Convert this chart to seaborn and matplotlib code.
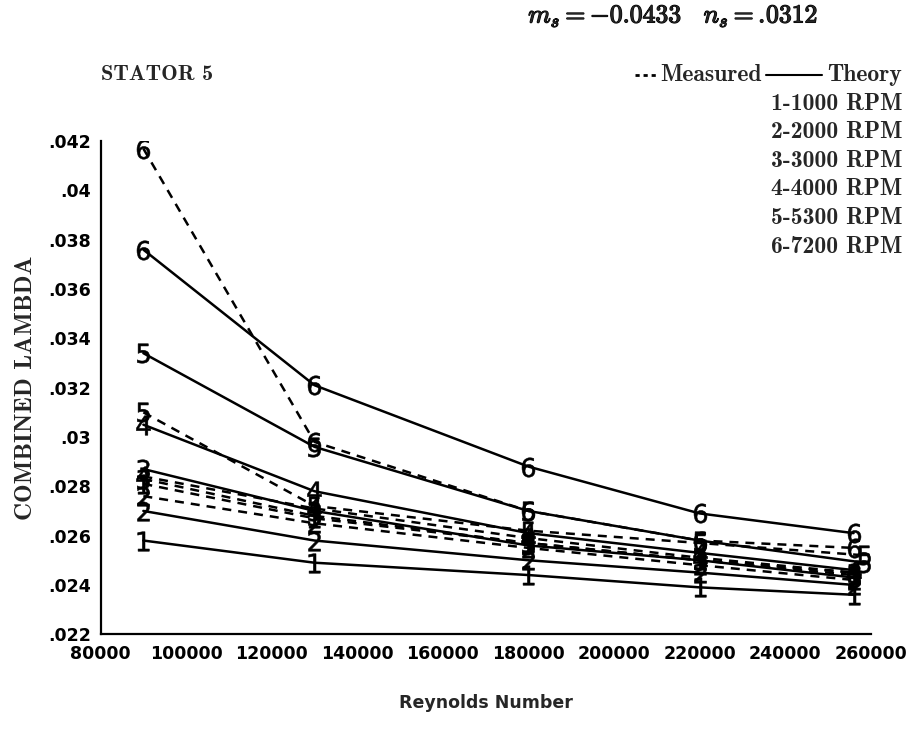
import matplotlib
matplotlib.use("Agg")
import matplotlib.pyplot as plt
from matplotlib.lines import Line2D
from matplotlib.ticker import FuncFormatter
import matplotlib.patheffects as pe
import seaborn as sns
import pandas as pd

# ---------------- data ----------------
reynolds = [90000, 130000, 180000, 220000, 256000]
reynolds_5 = [90000, 130000, 180000, 220000, 258500]
rpm_labels = ["1-1000 RPM", "2-2000 RPM", "3-3000 RPM", "4-4000 RPM", "5-5300 RPM", "6-7200 RPM"]
series_ids = ["1", "2", "3", "4", "5", "6"]

theory_1 = [0.0258, 0.0249, 0.0244, 0.0239, 0.0236]
theory_2 = [0.0270, 0.0258, 0.0250, 0.0245, 0.0240]
theory_3 = [0.0287, 0.0270, 0.0256, 0.0250, 0.0243]
theory_4 = [0.0305, 0.0278, 0.0261, 0.0253, 0.0246]
theory_5 = [0.0334, 0.0296, 0.0270, 0.0258, 0.0249]
theory_6 = [0.0376, 0.0321, 0.0288, 0.0269, 0.0261]

measured_1 = [0.0281, 0.0267, 0.0257, 0.0250, 0.0244]
measured_2 = [0.0276, 0.0265, 0.0255, 0.0248, 0.0242]
measured_3 = [0.0283, 0.0268, 0.0257, 0.0250, 0.0245]
measured_4 = [0.0284, 0.0271, 0.0259, 0.0251, 0.0245]
measured_5 = [0.0310, 0.0272, 0.0262, 0.0257, 0.0252]
measured_6 = [0.0417, 0.0298, 0.0270, 0.0258, 0.0255]

x_ticks = [80000, 100000, 120000, 140000, 160000, 180000, 200000, 220000, 240000, 260000]
y_ticks = [0.022, 0.024, 0.026, 0.028, 0.030, 0.032, 0.034, 0.036, 0.038, 0.040, 0.042]

theory = [theory_1, theory_2, theory_3, theory_4, theory_5, theory_6]
measured = [measured_1, measured_2, measured_3, measured_4, measured_5, measured_6]

rows = []
for sid, t, m in zip(series_ids, theory, measured):
    xs = reynolds_5 if sid == "5" else reynolds
    for re_, tv, mv in zip(xs, t, m):
        rows.append({"Re": re_, "lam": tv, "kind": "Theory", "sid": sid})
        rows.append({"Re": re_, "lam": mv, "kind": "Measured", "sid": sid})
df = pd.DataFrame(rows)

# ---------------- style ----------------
sns.set_theme(style="white")
plt.rcParams["mathtext.fontset"] = "cm"
plt.rcParams["font.family"] = ["DejaVu Sans"]
SERIF_B = ["cmb10", "DejaVu Serif"]

fig = plt.figure(figsize=(9.06, 7.47), dpi=100)
ax = fig.add_axes([0.111, 0.151, 0.850, 0.660])

for sid in series_ids:
    for kind, ls in (("Theory", "-"), ("Measured", (0, (3.6, 2.8)))):
        sub = df[(df["sid"] == sid) & (df["kind"] == kind)]
        sns.lineplot(data=sub, x="Re", y="lam", ax=ax, color="black",
                     linestyle=ls, linewidth=1.8,
                     marker=r"$\mathdefault{" + sid + "}$",
                     markersize=14, markeredgewidth=0.4,
                     markerfacecolor="black", markeredgecolor="black",
                     estimator=None, sort=False, legend=False)

ax.set_xlim(80000, 260000)
ax.set_ylim(0.022, 0.042)
ax.set_xticks(x_ticks)
ax.set_yticks(y_ticks)


def yfmt(v, pos):
    s = f"{v:.3f}".rstrip("0")
    return s[1:] if s.startswith("0") else s


ax.yaxis.set_major_formatter(FuncFormatter(yfmt))
ax.xaxis.set_major_formatter(FuncFormatter(lambda v, p: f"{int(v)}"))

for side in ("top", "right"):
    ax.spines[side].set_visible(False)
for side in ("left", "bottom"):
    ax.spines[side].set_color("black")
    ax.spines[side].set_linewidth(1.6)

ax.tick_params(axis="both", which="major", direction="inout", length=8,
               width=1.4, color="black", labelcolor="black")
ax.tick_params(axis="x", labelsize=12.5, pad=4)
ax.tick_params(axis="y", labelsize=12.5, pad=3)
for lab in ax.get_xticklabels() + ax.get_yticklabels():
    lab.set_fontweight("bold")

ax.set_xlabel("Reynolds Number", fontsize=12.5, fontweight="bold", labelpad=22)
ax.set_ylabel("COMBINED LAMBDA", fontsize=18, family=SERIF_B, labelpad=8)
ax.grid(False)

# ---------------- annotations ----------------
bold_fx = [pe.withStroke(linewidth=0.9, foreground="black")]
fig.text(0.583, 0.979, r"$m_s = -0.0433\quad n_s = .\!0312$",
         fontsize=18.5, ha="left", va="center", path_effects=bold_fx)
fig.text(0.111, 0.900, "STATOR 5", fontsize=16, family=SERIF_B, ha="left", va="center")

ly = 0.900
fig.add_artist(Line2D([0.701, 0.725], [ly, ly], transform=fig.transFigure,
                      color="black", linewidth=2.0, linestyle=(0, (1.5, 1.4))))
fig.text(0.729, ly, "Measured", fontsize=17, family=SERIF_B, ha="left", va="center")
fig.add_artist(Line2D([0.846, 0.907], [ly, ly], transform=fig.transFigure,
                      color="black", linewidth=1.5))
fig.text(0.996, ly, "Theory", fontsize=17, family=SERIF_B, ha="right", va="center")

for i, lab in enumerate(rpm_labels):
    fig.text(0.996, 0.861 - i * 0.0382, lab, family=SERIF_B,
             fontsize=17, ha="right", va="center")

fig.savefig("out.png", dpi=100, facecolor="white")
